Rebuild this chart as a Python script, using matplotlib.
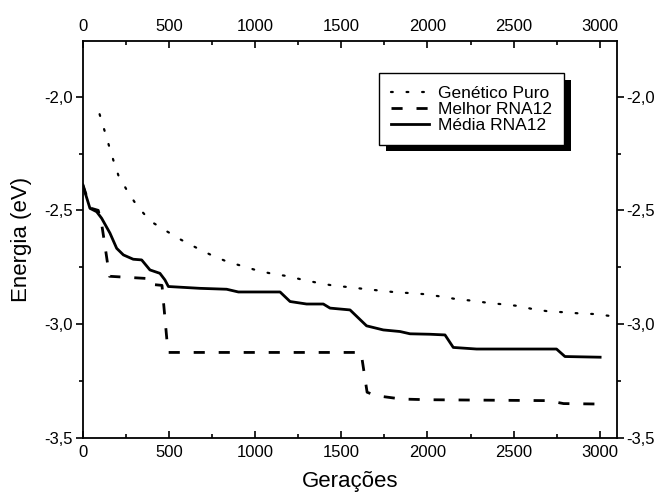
import matplotlib
matplotlib.use("Agg")
import matplotlib.pyplot as plt
from matplotlib.ticker import MultipleLocator, FuncFormatter
from matplotlib.patches import Rectangle

plt.rcParams['font.family'] = ['Liberation Sans', 'DejaVu Sans']

# Genético Puro (dotted)
gen_x = [98, 125, 151, 178, 207, 259, 317, 394, 481, 572, 661, 744, 839, 926, 1015,
         1106, 1195, 1284, 1373, 1454, 1547, 1636, 1725, 1812, 1900, 1990, 2077, 2165,
         2254, 2343, 2432, 2521, 2610, 2699, 2788, 2877, 2966, 3055]
gen_y = [-2.077, -2.145, -2.212, -2.280, -2.346, -2.415, -2.482, -2.548, -2.589, -2.630,
         -2.665, -2.696, -2.726, -2.745, -2.765, -2.780, -2.790, -2.807, -2.820, -2.831,
         -2.838, -2.846, -2.853, -2.860, -2.864, -2.869, -2.879, -2.890, -2.897, -2.906,
         -2.913, -2.920, -2.934, -2.944, -2.948, -2.953, -2.956, -2.964]

# Melhor RNA12 (dashed)
mel_x = [0, 45, 90, 110, 130, 155, 380, 390, 460, 495, 1615, 1630, 1650, 1700, 1850,
         2000, 2700, 2790, 3000]
mel_y = [-2.385, -2.49, -2.50, -2.56, -2.66, -2.79, -2.80, -2.825, -2.83, -3.125, -3.125,
         -3.20, -3.30, -3.315, -3.33, -3.333, -3.337, -3.35, -3.352]

# Média RNA12 (solid)
med_x = [0, 42, 81, 110, 158, 197, 236, 293, 342, 390, 448, 477, 497, 680, 835, 903,
         1145, 1203, 1299, 1396, 1435, 1551, 1647, 1744, 1841, 1899, 2015, 2102, 2150,
         2285, 2749, 2798, 3002]
med_y = [-2.388, -2.491, -2.506, -2.535, -2.600, -2.667, -2.696, -2.715, -2.718, -2.762,
         -2.777, -2.806, -2.835, -2.843, -2.847, -2.859, -2.859, -2.901, -2.912, -2.912,
         -2.930, -2.938, -3.008, -3.026, -3.033, -3.043, -3.045, -3.048, -3.103, -3.110,
         -3.110, -3.143, -3.146]

labels = ['Genético Puro', 'Melhor RNA12', 'Média RNA12']

fig = plt.figure(figsize=(6.58, 4.94), dpi=100)
ax = fig.add_axes([0.1257, 0.114, 0.812, 0.803])

ax.plot(gen_x, gen_y, color='black', lw=1.6, linestyle=(0, (0.8, 6.2)),
        dash_capstyle='round', label=labels[0])
ax.plot(mel_x, mel_y, color='black', lw=2.0, linestyle=(0, (4.0, 5.0)),
        dash_capstyle='butt', label=labels[1])
ax.plot(med_x, med_y, color='black', lw=2.0, linestyle='-', label=labels[2])

ax.set_xlim(0, 3100)
ax.set_ylim(-3.5, -1.755)

ax.xaxis.set_major_locator(MultipleLocator(500))
ax.xaxis.set_minor_locator(MultipleLocator(250))
ax.yaxis.set_major_locator(MultipleLocator(0.5))
ax.yaxis.set_minor_locator(MultipleLocator(0.25))
ax.yaxis.set_major_formatter(FuncFormatter(lambda v, p: f"{v:.1f}".replace('.', ',')))

ax.tick_params(axis='x', which='both', direction='in', top=True, bottom=True,
               labeltop=True, labelbottom=True, labelsize=12, width=1.2, pad=5)
ax.tick_params(axis='y', which='both', direction='out', left=True, right=True,
               labelleft=True, labelright=True, labelsize=12, width=1.2, pad=2)
ax.tick_params(which='major', length=5)
ax.tick_params(which='minor', length=3)
for s in ax.spines.values():
    s.set_linewidth(1.3)

ax.set_xlabel('Gerações', fontsize=16, labelpad=8)
ax.set_ylabel('Energia (eV)', fontsize=16, labelpad=9)

leg = ax.legend(loc='upper left', bbox_to_anchor=(0.5546, 0.9186), fontsize=12.5,
                frameon=True, fancybox=False, edgecolor='black', framealpha=1,
                handlelength=2.2, handletextpad=0.5, labelspacing=0.05,
                borderpad=0.7, borderaxespad=0)
leg.get_frame().set_linewidth(1.0)
leg.set_zorder(6)

fig.canvas.draw()
bb = leg.get_window_extent()
inv = ax.transAxes.inverted()
(x0, y0) = inv.transform((bb.x0 + 6.5, bb.y0 - 6.5))
(x1, y1) = inv.transform((bb.x1 + 6.5, bb.y1 - 6.5))
ax.add_patch(Rectangle((x0, y0), x1 - x0, y1 - y0, transform=ax.transAxes,
                       facecolor='black', edgecolor='none', zorder=5, clip_on=False))

fig.savefig('out.png', dpi=100)
